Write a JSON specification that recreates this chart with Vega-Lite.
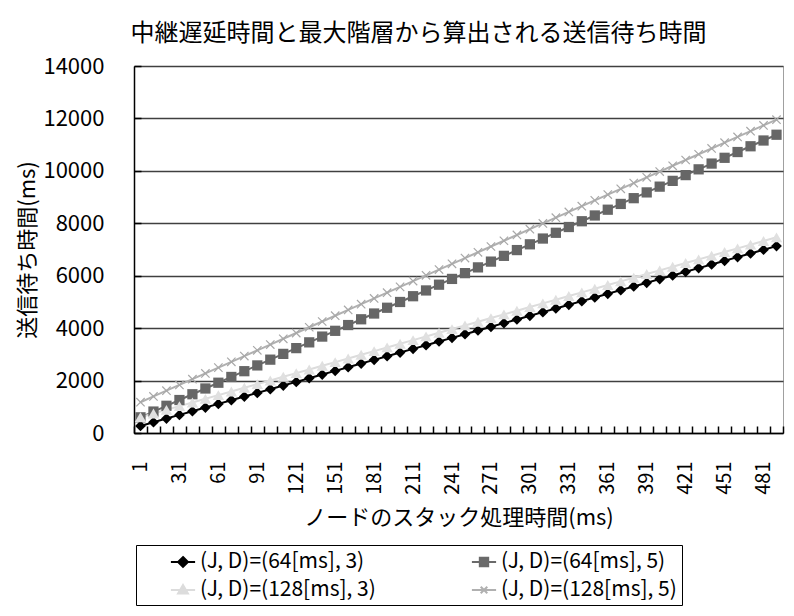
{
"$schema": "https://vega.github.io/schema/vega-lite/v6.json",
"width": 649,
"height": 367,
"autosize": {"type": "none"},
"padding": {"left": 134, "top": 66, "right": 11, "bottom": 183},
"background": "white",
"title": {"text": "中継遅延時間と最大階層から算出される送信待ち時間", "fontSize": 24, "fontWeight": "normal", "font": "Noto Sans CJK JP", "anchor": "middle", "offset": 9, "dx": -40, "color": "#000000"},
"config": {
  "font": "Noto Sans CJK JP",
  "view": {"stroke": "#a0a0a0", "strokeWidth": 1}
},
"data": {"values": [
{"x":1,"s":"A","v":270},{"x":11,"s":"A","v":410},{"x":21,"s":"A","v":550},{"x":31,"s":"A","v":690},{"x":41,"s":"A","v":830},{"x":51,"s":"A","v":970},{"x":61,"s":"A","v":1110},{"x":71,"s":"A","v":1250},{"x":81,"s":"A","v":1390},{"x":91,"s":"A","v":1530},
{"x":101,"s":"A","v":1670},{"x":111,"s":"A","v":1810},{"x":121,"s":"A","v":1950},{"x":131,"s":"A","v":2090},{"x":141,"s":"A","v":2230},{"x":151,"s":"A","v":2370},{"x":161,"s":"A","v":2510},{"x":171,"s":"A","v":2650},{"x":181,"s":"A","v":2790},{"x":191,"s":"A","v":2930},
{"x":201,"s":"A","v":3070},{"x":211,"s":"A","v":3210},{"x":221,"s":"A","v":3350},{"x":231,"s":"A","v":3490},{"x":241,"s":"A","v":3630},{"x":251,"s":"A","v":3770},{"x":261,"s":"A","v":3910},{"x":271,"s":"A","v":4050},{"x":281,"s":"A","v":4190},{"x":291,"s":"A","v":4330},
{"x":301,"s":"A","v":4470},{"x":311,"s":"A","v":4610},{"x":321,"s":"A","v":4750},{"x":331,"s":"A","v":4890},{"x":341,"s":"A","v":5030},{"x":351,"s":"A","v":5170},{"x":361,"s":"A","v":5310},{"x":371,"s":"A","v":5450},{"x":381,"s":"A","v":5590},{"x":391,"s":"A","v":5730},
{"x":401,"s":"A","v":5870},{"x":411,"s":"A","v":6010},{"x":421,"s":"A","v":6150},{"x":431,"s":"A","v":6290},{"x":441,"s":"A","v":6430},{"x":451,"s":"A","v":6570},{"x":461,"s":"A","v":6710},{"x":471,"s":"A","v":6850},{"x":481,"s":"A","v":6990},{"x":491,"s":"A","v":7130},
{"x":1,"s":"B","v":598},{"x":11,"s":"B","v":818},{"x":21,"s":"B","v":1038},{"x":31,"s":"B","v":1258},{"x":41,"s":"B","v":1478},{"x":51,"s":"B","v":1698},{"x":61,"s":"B","v":1918},{"x":71,"s":"B","v":2138},{"x":81,"s":"B","v":2358},{"x":91,"s":"B","v":2578},
{"x":101,"s":"B","v":2798},{"x":111,"s":"B","v":3018},{"x":121,"s":"B","v":3238},{"x":131,"s":"B","v":3458},{"x":141,"s":"B","v":3678},{"x":151,"s":"B","v":3898},{"x":161,"s":"B","v":4118},{"x":171,"s":"B","v":4338},{"x":181,"s":"B","v":4558},{"x":191,"s":"B","v":4778},
{"x":201,"s":"B","v":4998},{"x":211,"s":"B","v":5218},{"x":221,"s":"B","v":5438},{"x":231,"s":"B","v":5658},{"x":241,"s":"B","v":5878},{"x":251,"s":"B","v":6098},{"x":261,"s":"B","v":6318},{"x":271,"s":"B","v":6538},{"x":281,"s":"B","v":6758},{"x":291,"s":"B","v":6978},
{"x":301,"s":"B","v":7198},{"x":311,"s":"B","v":7418},{"x":321,"s":"B","v":7638},{"x":331,"s":"B","v":7858},{"x":341,"s":"B","v":8078},{"x":351,"s":"B","v":8298},{"x":361,"s":"B","v":8518},{"x":371,"s":"B","v":8738},{"x":381,"s":"B","v":8958},{"x":391,"s":"B","v":9178},
{"x":401,"s":"B","v":9398},{"x":411,"s":"B","v":9618},{"x":421,"s":"B","v":9838},{"x":431,"s":"B","v":10058},{"x":441,"s":"B","v":10278},{"x":451,"s":"B","v":10498},{"x":461,"s":"B","v":10718},{"x":471,"s":"B","v":10938},{"x":481,"s":"B","v":11158},{"x":491,"s":"B","v":11378},
{"x":1,"s":"C","v":604},{"x":11,"s":"C","v":744},{"x":21,"s":"C","v":884},{"x":31,"s":"C","v":1024},{"x":41,"s":"C","v":1164},{"x":51,"s":"C","v":1304},{"x":61,"s":"C","v":1444},{"x":71,"s":"C","v":1584},{"x":81,"s":"C","v":1724},{"x":91,"s":"C","v":1864},
{"x":101,"s":"C","v":2004},{"x":111,"s":"C","v":2144},{"x":121,"s":"C","v":2284},{"x":131,"s":"C","v":2424},{"x":141,"s":"C","v":2564},{"x":151,"s":"C","v":2704},{"x":161,"s":"C","v":2844},{"x":171,"s":"C","v":2984},{"x":181,"s":"C","v":3124},{"x":191,"s":"C","v":3264},
{"x":201,"s":"C","v":3404},{"x":211,"s":"C","v":3544},{"x":221,"s":"C","v":3684},{"x":231,"s":"C","v":3824},{"x":241,"s":"C","v":3964},{"x":251,"s":"C","v":4104},{"x":261,"s":"C","v":4244},{"x":271,"s":"C","v":4384},{"x":281,"s":"C","v":4524},{"x":291,"s":"C","v":4664},
{"x":301,"s":"C","v":4804},{"x":311,"s":"C","v":4944},{"x":321,"s":"C","v":5084},{"x":331,"s":"C","v":5224},{"x":341,"s":"C","v":5364},{"x":351,"s":"C","v":5504},{"x":361,"s":"C","v":5644},{"x":371,"s":"C","v":5784},{"x":381,"s":"C","v":5924},{"x":391,"s":"C","v":6064},
{"x":401,"s":"C","v":6204},{"x":411,"s":"C","v":6344},{"x":421,"s":"C","v":6484},{"x":431,"s":"C","v":6624},{"x":441,"s":"C","v":6764},{"x":451,"s":"C","v":6904},{"x":461,"s":"C","v":7044},{"x":471,"s":"C","v":7184},{"x":481,"s":"C","v":7324},{"x":491,"s":"C","v":7464},
{"x":1,"s":"D","v":1174},{"x":11,"s":"D","v":1394},{"x":21,"s":"D","v":1614},{"x":31,"s":"D","v":1834},{"x":41,"s":"D","v":2054},{"x":51,"s":"D","v":2274},{"x":61,"s":"D","v":2494},{"x":71,"s":"D","v":2714},{"x":81,"s":"D","v":2934},{"x":91,"s":"D","v":3154},
{"x":101,"s":"D","v":3374},{"x":111,"s":"D","v":3594},{"x":121,"s":"D","v":3814},{"x":131,"s":"D","v":4034},{"x":141,"s":"D","v":4254},{"x":151,"s":"D","v":4474},{"x":161,"s":"D","v":4694},{"x":171,"s":"D","v":4914},{"x":181,"s":"D","v":5134},{"x":191,"s":"D","v":5354},
{"x":201,"s":"D","v":5574},{"x":211,"s":"D","v":5794},{"x":221,"s":"D","v":6014},{"x":231,"s":"D","v":6234},{"x":241,"s":"D","v":6454},{"x":251,"s":"D","v":6674},{"x":261,"s":"D","v":6894},{"x":271,"s":"D","v":7114},{"x":281,"s":"D","v":7334},{"x":291,"s":"D","v":7554},
{"x":301,"s":"D","v":7774},{"x":311,"s":"D","v":7994},{"x":321,"s":"D","v":8214},{"x":331,"s":"D","v":8434},{"x":341,"s":"D","v":8654},{"x":351,"s":"D","v":8874},{"x":361,"s":"D","v":9094},{"x":371,"s":"D","v":9314},{"x":381,"s":"D","v":9534},{"x":391,"s":"D","v":9754},
{"x":401,"s":"D","v":9974},{"x":411,"s":"D","v":10194},{"x":421,"s":"D","v":10414},{"x":431,"s":"D","v":10634},{"x":441,"s":"D","v":10854},{"x":451,"s":"D","v":11074},{"x":461,"s":"D","v":11294},{"x":471,"s":"D","v":11514},{"x":481,"s":"D","v":11734},{"x":491,"s":"D","v":11954}
]},
"encoding": {
  "x": {"field": "x", "type": "ordinal", "bandPosition": 0.5,
    "scale": {"type": "band", "paddingInner": 0, "paddingOuter": 0},
    "axis": {"title": "ノードのスタック処理時間(ms)", "titleFontSize": 22, "titleFontWeight": "normal", "titleColor": "#000000", "titleX": 324.5, "titleY": 84, "titleBaseline": "middle", "titleAlign": "center",
      "labelAngle": 270, "labelFontSize": 20, "labelColor": "#000000", "labelPadding": 35,
      "labelExpr": "(datum.value - 1) % 30 == 0 ? datum.label : ''",
      "tickBand": "extent", "tickSize": -7, "tickColor": "#000000", "tickWidth": 1.5,
      "domainColor": "#000000", "domainWidth": 1.5, "grid": false}},
  "y": {"field": "v", "type": "quantitative",
    "scale": {"domain": [0, 14000], "nice": false},
    "axis": {"title": "送信待ち時間(ms)", "titleFontSize": 22, "titleFontWeight": "normal", "titleColor": "#000000", "titleX": -107, "titleY": 183.5, "titleAngle": 270, "titleBaseline": "middle", "titleAlign": "center",
      "values": [0, 2000, 4000, 6000, 8000, 10000, 12000, 14000], "format": "d",
      "labelFontSize": 22, "labelColor": "#000000", "labelPadding": 37,
      "tickSize": -7, "tickColor": "#000000", "tickWidth": 1.5,
      "domainColor": "#000000", "domainWidth": 1.5,
      "grid": true, "gridColor": "#404040", "gridWidth": 1.3}}
},
"layer": [
  {"mark": {"type": "line", "strokeWidth": 2},
   "encoding": {"color": {"field": "s", "type": "nominal",
     "scale": {"domain": ["A", "B", "C", "D"], "range": ["#000000", "#6a6a6a", "#dcdcdc", "#b0b0b0"]},
     "legend": {"orient": "none", "legendX": 2, "legendY": 479, "title": null, "columns": 2, "direction": "horizontal",
       "strokeColor": "#000000", "padding": 5, "symbolOffset": 30, "symbolSize": 484, "symbolStrokeWidth": 2,
       "labelFontSize": 21, "labelColor": "#000000", "labelOffset": 5, "labelLimit": 0, "columnPadding": 66, "rowPadding": 6,
       "labelExpr": "datum.value == 'A' ? '(J, D)=(64[ms], 3)' : datum.value == 'B' ? '(J, D)=(64[ms], 5)' : datum.value == 'C' ? '(J, D)=(128[ms], 3)' : '(J, D)=(128[ms], 5)'",
       "encode": {"symbols": {"update": {
         "shape": {"signal": "datum.value == 'A' ? 'M-1.1,0L1.1,0M0,-0.45L0.45,0L0,0.45L-0.45,0Z' : datum.value == 'B' ? 'M-1.1,0L1.1,0M-0.38,-0.38L0.38,-0.38L0.38,0.38L-0.38,0.38Z' : datum.value == 'C' ? 'M-1.1,0L1.1,0M0,-0.45L0.45,0.32L-0.45,0.32Z' : 'M-1.1,0L1.1,0M-0.3,-0.3L0.3,0.3M-0.3,0.3L0.3,-0.3'"},
         "fill": {"scale": "color", "field": "value"},
         "stroke": {"scale": "color", "field": "value"},
         "strokeWidth": {"value": 2},
         "opacity": {"value": 1}}}}}}}},
  {"transform": [{"filter": {"field": "s", "equal": "A"}}],
   "mark": {"type": "point", "shape": "diamond", "filled": true, "size": 115, "opacity": 1, "color": "#000000"}},
  {"transform": [{"filter": {"field": "s", "equal": "B"}}],
   "mark": {"type": "point", "shape": "square", "filled": true, "size": 105, "opacity": 1, "color": "#666666"}},
  {"transform": [{"filter": {"field": "s", "equal": "C"}}],
   "mark": {"type": "point", "shape": "triangle-up", "filled": true, "size": 130, "opacity": 1, "color": "#e0e0e0"}},
  {"transform": [{"filter": {"field": "s", "equal": "D"}}],
   "mark": {"type": "point", "shape": "M-1,-1L1,1M-1,1L1,-1", "filled": false, "size": 70, "opacity": 1, "color": "#a8a8a8", "strokeWidth": 1.2}}
]
}
